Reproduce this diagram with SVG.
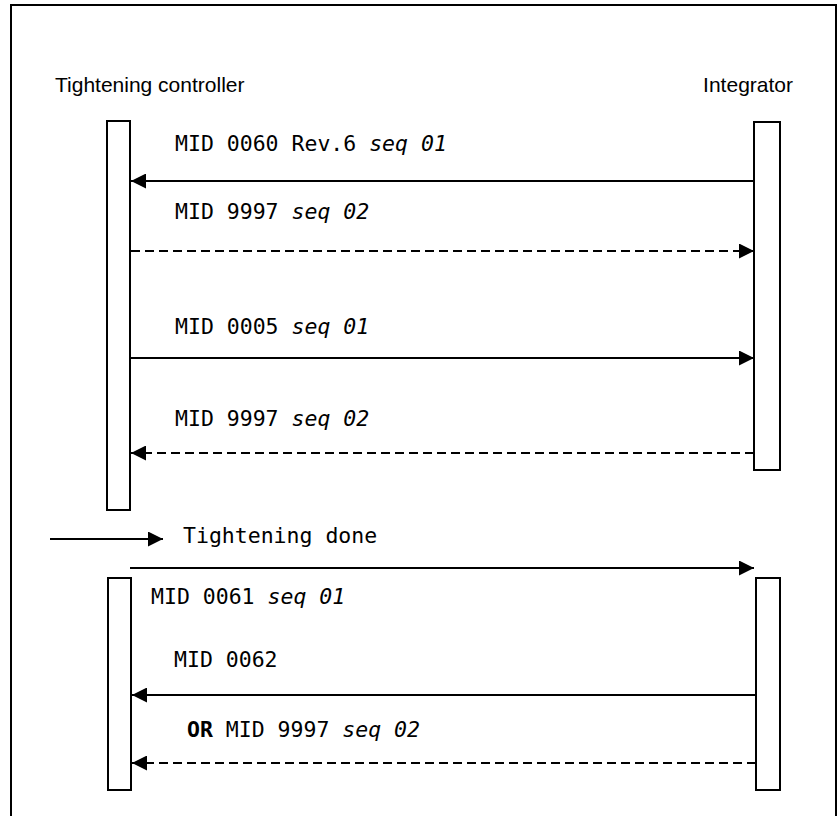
<svg xmlns="http://www.w3.org/2000/svg" width="837" height="816" viewBox="0 0 837 816">
<defs>
<marker id="ah" markerWidth="15" markerHeight="15" viewBox="0 0 15 15" refX="15" refY="7.5" orient="auto" markerUnits="userSpaceOnUse">
<path d="M0,0 L15,7.5 L0,15 Z" fill="#000"/>
</marker>
<style>
.lbl{font-family:"Liberation Sans",Arial,sans-serif;font-size:21px;fill:#000}
.msg{font-family:"DejaVu Sans Mono","Liberation Mono",monospace;font-size:21.5px;fill:#000}
.it{font-style:italic}
.bd{font-weight:bold}
.box{fill:#fff;stroke:#000;stroke-width:2}
.ln{stroke:#000;stroke-width:2;fill:none}
.dash{stroke-dasharray:9 5}
</style>
</defs>
<rect x="11" y="5" width="825" height="820" fill="#fff" stroke="#000" stroke-width="2"/>
<g id="tightening-controller">
<text class="lbl" x="55" y="92">Tightening controller</text>
<rect class="box" x="107" y="121" width="23" height="389"/>
<rect class="box" x="108" y="578" width="23" height="212"/>
</g>
<g id="integrator">
<text class="lbl" x="793" y="92" text-anchor="end">Integrator</text>
<rect class="box" x="754" y="122" width="26" height="348"/>
<rect class="box" x="756" y="578" width="24" height="212"/>
</g>
<g id="connectors">
<line class="ln" x1="754" y1="181" x2="131" y2="181" marker-end="url(#ah)"/>
<line class="ln dash" x1="131" y1="251" x2="754" y2="251" marker-end="url(#ah)"/>
<line class="ln" x1="131" y1="358" x2="754" y2="358" marker-end="url(#ah)"/>
<line class="ln dash" x1="754" y1="453" x2="131" y2="453" marker-end="url(#ah)"/>
<line class="ln" x1="50" y1="539" x2="163" y2="539" marker-end="url(#ah)"/>
<line class="ln" x1="130" y1="568" x2="754" y2="568" marker-end="url(#ah)"/>
<line class="ln" x1="756" y1="695" x2="132" y2="695" marker-end="url(#ah)"/>
<line class="ln dash" x1="756" y1="763" x2="132" y2="763" marker-end="url(#ah)"/>
</g>
<g id="labels">
<text class="msg" x="175" y="151">MID 0060 Rev.6 <tspan class="it">seq 01</tspan></text>
<text class="msg" x="175" y="219">MID 9997 <tspan class="it">seq 02</tspan></text>
<text class="msg" x="175" y="334">MID 0005 <tspan class="it">seq 01</tspan></text>
<text class="msg" x="175" y="426">MID 9997 <tspan class="it">seq 02</tspan></text>
<text class="msg" x="183" y="543">Tightening done</text>
<text class="msg" x="151" y="604">MID 0061 <tspan class="it">seq 01</tspan></text>
<text class="msg" x="174" y="667">MID 0062</text>
<text class="msg" x="187" y="737"><tspan class="bd">OR</tspan> MID 9997 <tspan class="it">seq 02</tspan></text>
</g>
</svg>
